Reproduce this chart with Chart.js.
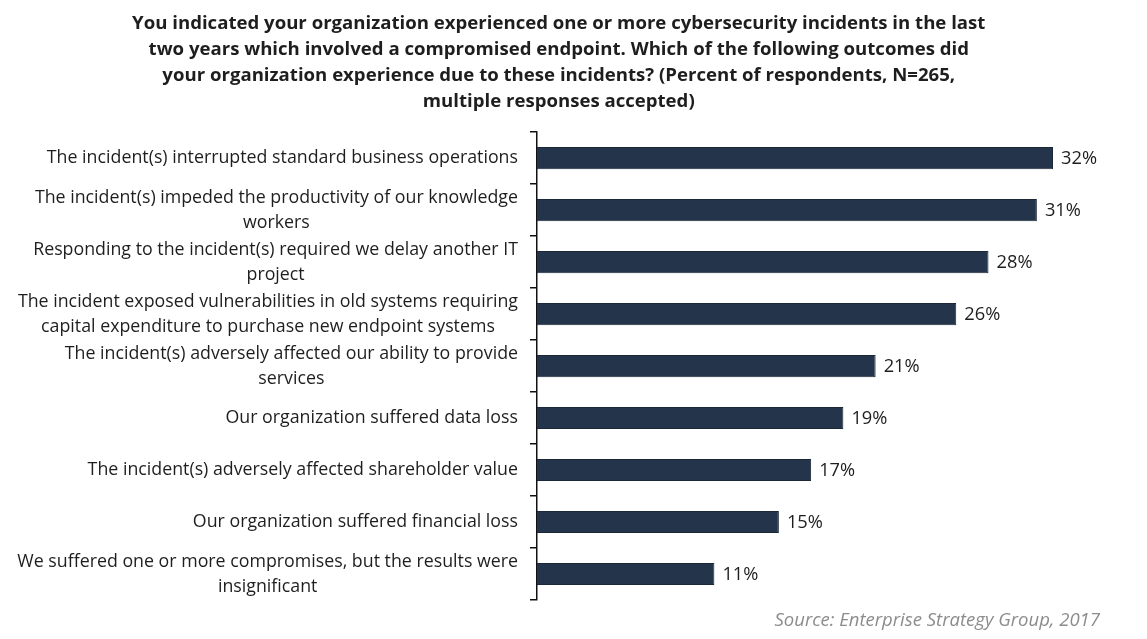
<!DOCTYPE html>
<html>
<head>
<meta charset="utf-8">
<script src="https://cdn.jsdelivr.net/npm/chart.js@4.4.1/dist/chart.umd.min.js"></script>
<style>
  html, body { margin: 0; padding: 0; background: #ffffff; }
  #wrap { width: 1147px; height: 639px; position: relative; }
</style>
</head>
<body>
<div id="wrap"><canvas id="c"></canvas></div>
<script>
const titleLines = [
  "You indicated your organization experienced one or more cybersecurity incidents in the last",
  "two years which involved a compromised endpoint. Which of the following outcomes did",
  "your organization experience due to these incidents? (Percent of respondents, N=265,",
  "multiple responses accepted)"
];
const categories = [
  ["The incident(s) interrupted standard business operations"],
  ["The incident(s) impeded the productivity of our knowledge", "workers"],
  ["Responding to the incident(s) required we delay another IT", "project"],
  ["The incident exposed vulnerabilities in old systems requiring", "capital expenditure to purchase new endpoint systems"],
  ["The incident(s) adversely affected our ability to provide", "services"],
  ["Our organization suffered data loss"],
  ["The incident(s) adversely affected shareholder value"],
  ["Our organization suffered financial loss"],
  ["We suffered one or more compromises, but the results were", "insignificant"]
];
const values = [32, 31, 28, 26, 21, 19, 17, 15, 11];
const sourceText = "Source: Enterprise Strategy Group, 2017";

const FONT = "'Open Sans', Lato, sans-serif";

const customText = {
  id: 'customText',
  afterDatasetsDraw(chart) {
    const ctx = chart.ctx;
    const y = chart.scales.y;
    const x = chart.scales.x;
    ctx.save();
    // category labels
    ctx.font = "17.8px " + FONT;
    ctx.fillStyle = "#1e1e1e";
    ctx.textAlign = "center";
    ctx.textBaseline = "middle";
    const rightEdge = y.right - 19;
    categories.forEach((lines, i) => {
      const cy = y.getPixelForValue(i);
      const maxW = Math.max(...lines.map(l => ctx.measureText(l).width));
      const cx = rightEdge - maxW / 2;
      const lh = 25;
      const y0 = cy - (lines.length - 1) * lh / 2;
      lines.forEach((l, k) => ctx.fillText(l, cx, y0 + k * lh));
    });
    // value labels
    ctx.font = "18.3px " + FONT;
    ctx.textAlign = "left";
    values.forEach((v, i) => {
      ctx.fillText(v + "%", x.getPixelForValue(v) + 8, y.getPixelForValue(i) + 1);
    });
    // source
    ctx.font = "italic 18.5px " + FONT;
    ctx.fillStyle = "#8c8c8c";
    ctx.textAlign = "right";
    ctx.fillText(sourceText, 1100, 621);
    ctx.restore();
  }
};

new Chart(document.getElementById('c'), {
  type: 'bar',
  data: {
    labels: categories,
    datasets: [{
      data: values,
      backgroundColor: '#24344a',
      borderColor: '#1b2838',
      borderWidth: 1,
      barPercentage: 0.85,
      categoryPercentage: 0.5
    }]
  },
  options: {
    indexAxis: 'y',
    responsive: true,
    maintainAspectRatio: false,
    animation: false,
    layout: { padding: { left: 0, right: 29.5, top: 0, bottom: 39 } },
    plugins: {
      legend: { display: false },
      tooltip: { enabled: false },
      title: {
        display: true,
        text: titleLines,
        color: '#1e1e1e',
        font: { family: FONT, size: 18.6, weight: 'bold', lineHeight: 1.4 },
        padding: { top: 11, bottom: 17 }
      }
    },
    scales: {
      x: {
        display: false,
        min: 0,
        max: 36
      },
      y: {
        afterFit(scale) { scale.width = 537; },
        ticks: { display: false },
        grid: {
          offset: true,
          drawOnChartArea: false,
          drawTicks: true,
          tickLength: 7,
          color: '#111111',
          lineWidth: 1.5
        },
        border: { display: true, color: '#111111', width: 1.5 }
      }
    }
  },
  plugins: [customText]
});
</script>
</body>
</html>
